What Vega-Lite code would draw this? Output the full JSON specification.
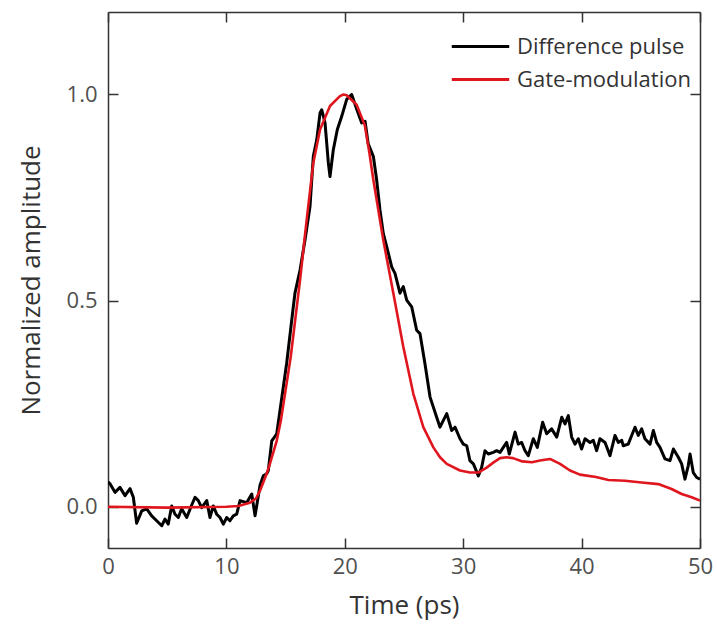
{
  "$schema": "https://vega.github.io/schema/vega-lite/v6.json",
  "width": 592,
  "height": 536,
  "autosize": {"type": "none"},
  "padding": {"left": 108, "top": 12, "right": 17, "bottom": 88},
  "background": "white",
  "config": {
    "view": {"stroke": null},
    "font": "Open Sans",
    "axis": {
      "domainColor": "#333333",
      "domainWidth": 1.5,
      "tickColor": "#333333",
      "tickWidth": 1.5,
      "tickSize": -10,
      "grid": false,
      "labelFlush": false,
      "labelFont": "Open Sans",
      "labelFontSize": 22,
      "labelColor": "#505050",
      "titleFont": "Open Sans",
      "titleFontSize": 26,
      "titleFontWeight": "normal",
      "titleColor": "#333333"
    },
    "legend": {
      "labelFont": "Open Sans",
      "labelFontSize": 22,
      "labelColor": "#333333",
      "labelLimit": 400
    }
  },
  "datasets": {
    "diff": [
      {"t": 0.0, "v": 0.06}, {"t": 0.17, "v": 0.056}, {"t": 0.59, "v": 0.035}, {"t": 1.01, "v": 0.047},
      {"t": 1.44, "v": 0.027}, {"t": 1.86, "v": 0.044}, {"t": 2.14, "v": 0.023}, {"t": 2.42, "v": -0.04},
      {"t": 2.85, "v": -0.01}, {"t": 3.27, "v": -0.005}, {"t": 3.69, "v": -0.022}, {"t": 4.11, "v": -0.034},
      {"t": 4.54, "v": -0.046}, {"t": 4.81, "v": -0.03}, {"t": 5.09, "v": -0.042}, {"t": 5.38, "v": 0.002},
      {"t": 5.66, "v": -0.018}, {"t": 5.94, "v": -0.026}, {"t": 6.22, "v": -0.005}, {"t": 6.65, "v": -0.026},
      {"t": 7.01, "v": 0.0}, {"t": 7.35, "v": 0.023}, {"t": 7.63, "v": 0.015}, {"t": 7.91, "v": -0.002},
      {"t": 8.34, "v": 0.015}, {"t": 8.61, "v": -0.026}, {"t": 8.89, "v": 0.002}, {"t": 9.18, "v": -0.018},
      {"t": 9.46, "v": -0.026}, {"t": 9.74, "v": -0.042}, {"t": 10.03, "v": -0.026}, {"t": 10.3, "v": -0.034},
      {"t": 10.58, "v": -0.022}, {"t": 10.87, "v": -0.018}, {"t": 11.15, "v": 0.015}, {"t": 11.71, "v": 0.01},
      {"t": 12.14, "v": 0.031}, {"t": 12.42, "v": -0.022}, {"t": 12.84, "v": 0.052}, {"t": 13.12, "v": 0.075},
      {"t": 13.4, "v": 0.08}, {"t": 13.54, "v": 0.088}, {"t": 13.83, "v": 0.16}, {"t": 13.96, "v": 0.165},
      {"t": 14.25, "v": 0.177}, {"t": 14.53, "v": 0.234}, {"t": 15.09, "v": 0.348}, {"t": 15.65, "v": 0.485},
      {"t": 15.79, "v": 0.518}, {"t": 16.22, "v": 0.574}, {"t": 16.64, "v": 0.647}, {"t": 17.06, "v": 0.728},
      {"t": 17.34, "v": 0.85}, {"t": 17.63, "v": 0.89}, {"t": 17.91, "v": 0.955}, {"t": 18.05, "v": 0.963},
      {"t": 18.33, "v": 0.931}, {"t": 18.61, "v": 0.834}, {"t": 18.75, "v": 0.801}, {"t": 19.03, "v": 0.866},
      {"t": 19.37, "v": 0.915}, {"t": 19.74, "v": 0.947}, {"t": 20.16, "v": 0.988}, {"t": 20.58, "v": 1.0},
      {"t": 21.0, "v": 0.965}, {"t": 21.43, "v": 0.931}, {"t": 21.71, "v": 0.935}, {"t": 21.98, "v": 0.88},
      {"t": 22.41, "v": 0.85}, {"t": 22.69, "v": 0.793}, {"t": 22.97, "v": 0.72}, {"t": 23.25, "v": 0.663},
      {"t": 23.54, "v": 0.631}, {"t": 23.96, "v": 0.582}, {"t": 24.24, "v": 0.566}, {"t": 24.66, "v": 0.518},
      {"t": 24.94, "v": 0.534}, {"t": 25.23, "v": 0.501}, {"t": 25.65, "v": 0.485}, {"t": 26.07, "v": 0.428},
      {"t": 26.35, "v": 0.42}, {"t": 26.77, "v": 0.347}, {"t": 27.2, "v": 0.266}, {"t": 27.76, "v": 0.217},
      {"t": 28.04, "v": 0.193}, {"t": 28.61, "v": 0.226}, {"t": 29.03, "v": 0.185}, {"t": 29.31, "v": 0.193},
      {"t": 29.73, "v": 0.165}, {"t": 30.01, "v": 0.152}, {"t": 30.3, "v": 0.148}, {"t": 30.57, "v": 0.112},
      {"t": 30.86, "v": 0.104}, {"t": 31.28, "v": 0.075}, {"t": 31.56, "v": 0.096}, {"t": 31.84, "v": 0.136},
      {"t": 32.12, "v": 0.128}, {"t": 32.54, "v": 0.132}, {"t": 32.83, "v": 0.136}, {"t": 33.11, "v": 0.132},
      {"t": 33.39, "v": 0.144}, {"t": 33.67, "v": 0.156}, {"t": 33.89, "v": 0.128}, {"t": 34.38, "v": 0.181},
      {"t": 34.65, "v": 0.152}, {"t": 34.94, "v": 0.156}, {"t": 35.22, "v": 0.136}, {"t": 35.5, "v": 0.124},
      {"t": 35.92, "v": 0.165}, {"t": 36.26, "v": 0.144}, {"t": 36.71, "v": 0.205}, {"t": 37.05, "v": 0.177},
      {"t": 37.47, "v": 0.189}, {"t": 37.9, "v": 0.169}, {"t": 38.32, "v": 0.217}, {"t": 38.6, "v": 0.201},
      {"t": 38.88, "v": 0.221}, {"t": 39.16, "v": 0.169}, {"t": 39.44, "v": 0.152}, {"t": 39.72, "v": 0.165},
      {"t": 40.0, "v": 0.14}, {"t": 40.29, "v": 0.165}, {"t": 40.71, "v": 0.156}, {"t": 40.99, "v": 0.161},
      {"t": 41.27, "v": 0.136}, {"t": 41.55, "v": 0.165}, {"t": 41.98, "v": 0.156}, {"t": 42.4, "v": 0.124},
      {"t": 42.82, "v": 0.173}, {"t": 43.1, "v": 0.156}, {"t": 43.39, "v": 0.161}, {"t": 43.52, "v": 0.148},
      {"t": 43.94, "v": 0.152}, {"t": 44.23, "v": 0.173}, {"t": 44.51, "v": 0.193}, {"t": 44.79, "v": 0.173},
      {"t": 45.07, "v": 0.189}, {"t": 45.35, "v": 0.165}, {"t": 45.78, "v": 0.152}, {"t": 46.06, "v": 0.185},
      {"t": 46.34, "v": 0.156}, {"t": 46.62, "v": 0.144}, {"t": 47.04, "v": 0.116}, {"t": 47.47, "v": 0.112},
      {"t": 47.75, "v": 0.14}, {"t": 48.17, "v": 0.12}, {"t": 48.45, "v": 0.104}, {"t": 48.73, "v": 0.067},
      {"t": 49.01, "v": 0.1}, {"t": 49.16, "v": 0.128}, {"t": 49.43, "v": 0.083}, {"t": 49.72, "v": 0.071},
      {"t": 50.0, "v": 0.067}
    ],
    "gate": [
      {"t": 0.0, "v": 0.0}, {"t": 5.0, "v": -0.002}, {"t": 10.0, "v": 0.0}, {"t": 11.0, "v": 0.002},
      {"t": 11.99, "v": 0.01}, {"t": 12.5, "v": 0.02}, {"t": 12.84, "v": 0.039}, {"t": 13.4, "v": 0.08},
      {"t": 13.68, "v": 0.105}, {"t": 14.25, "v": 0.16}, {"t": 14.6, "v": 0.209}, {"t": 15.43, "v": 0.363},
      {"t": 16.22, "v": 0.55}, {"t": 16.78, "v": 0.696}, {"t": 17.34, "v": 0.834}, {"t": 17.91, "v": 0.915},
      {"t": 18.75, "v": 0.972}, {"t": 19.59, "v": 0.996}, {"t": 19.9, "v": 1.0}, {"t": 20.16, "v": 0.998},
      {"t": 21.0, "v": 0.975}, {"t": 21.69, "v": 0.925}, {"t": 22.07, "v": 0.86}, {"t": 22.41, "v": 0.793},
      {"t": 23.25, "v": 0.647}, {"t": 24.1, "v": 0.518}, {"t": 24.94, "v": 0.388}, {"t": 25.79, "v": 0.274},
      {"t": 26.63, "v": 0.193}, {"t": 27.48, "v": 0.144}, {"t": 28.04, "v": 0.12}, {"t": 28.61, "v": 0.104},
      {"t": 29.73, "v": 0.088}, {"t": 30.57, "v": 0.083}, {"t": 31.28, "v": 0.083}, {"t": 31.98, "v": 0.095},
      {"t": 32.54, "v": 0.107}, {"t": 33.11, "v": 0.118}, {"t": 33.67, "v": 0.12}, {"t": 34.21, "v": 0.118},
      {"t": 35.0, "v": 0.11}, {"t": 35.8, "v": 0.108}, {"t": 36.49, "v": 0.112}, {"t": 37.33, "v": 0.116},
      {"t": 38.18, "v": 0.104}, {"t": 39.02, "v": 0.088}, {"t": 39.86, "v": 0.078}, {"t": 41.22, "v": 0.072},
      {"t": 42.26, "v": 0.065}, {"t": 43.67, "v": 0.063}, {"t": 45.07, "v": 0.059}, {"t": 46.48, "v": 0.055},
      {"t": 47.6, "v": 0.043}, {"t": 48.45, "v": 0.031}, {"t": 49.3, "v": 0.023}, {"t": 50.0, "v": 0.015}
    ]
  },
  "layer": [
    {
      "data": {"name": "diff"},
      "mark": {"type": "line", "strokeWidth": 3, "strokeJoin": "round", "clip": true},
      "encoding": {
        "x": {
          "field": "t", "type": "quantitative",
          "scale": {"domain": [0, 50], "nice": false, "zero": false},
          "axis": {"orient": "bottom", "values": [0, 10, 20, 30, 40, 50], "title": "Time (ps)", "labelPadding": 18, "titlePadding": 15}
        },
        "y": {
          "field": "v", "type": "quantitative",
          "scale": {"domain": [-0.1, 1.2], "nice": false, "zero": false},
          "axis": {"orient": "left", "values": [0, 0.5, 1], "format": ".1f", "title": "Normalized amplitude", "labelPadding": 21, "titlePadding": 22}
        },
        "color": {
          "datum": "Difference pulse",
          "scale": {"domain": ["Difference pulse", "Gate-modulation"], "range": ["#000000", "#e0161e"]},
          "legend": {
            "title": null, "orient": "none", "legendX": 342, "legendY": 18,
            "symbolType": "stroke", "symbolSize": 3300, "symbolStrokeWidth": 2.8,
            "clipHeight": 33, "labelOffset": 6, "rowPadding": 0
          }
        }
      }
    },
    {
      "data": {"name": "gate"},
      "mark": {"type": "line", "strokeWidth": 2.6, "strokeJoin": "round", "clip": true},
      "encoding": {
        "x": {
          "field": "t", "type": "quantitative",
          "axis": {"orient": "top", "values": [0, 10, 20, 30, 40, 50], "labels": false, "title": null}
        },
        "y": {
          "field": "v", "type": "quantitative",
          "axis": {"orient": "right", "values": [0, 0.5, 1], "labels": false, "title": null}
        },
        "color": {"datum": "Gate-modulation"}
      }
    }
  ],
  "resolve": {"axis": {"x": "independent", "y": "independent"}}
}
